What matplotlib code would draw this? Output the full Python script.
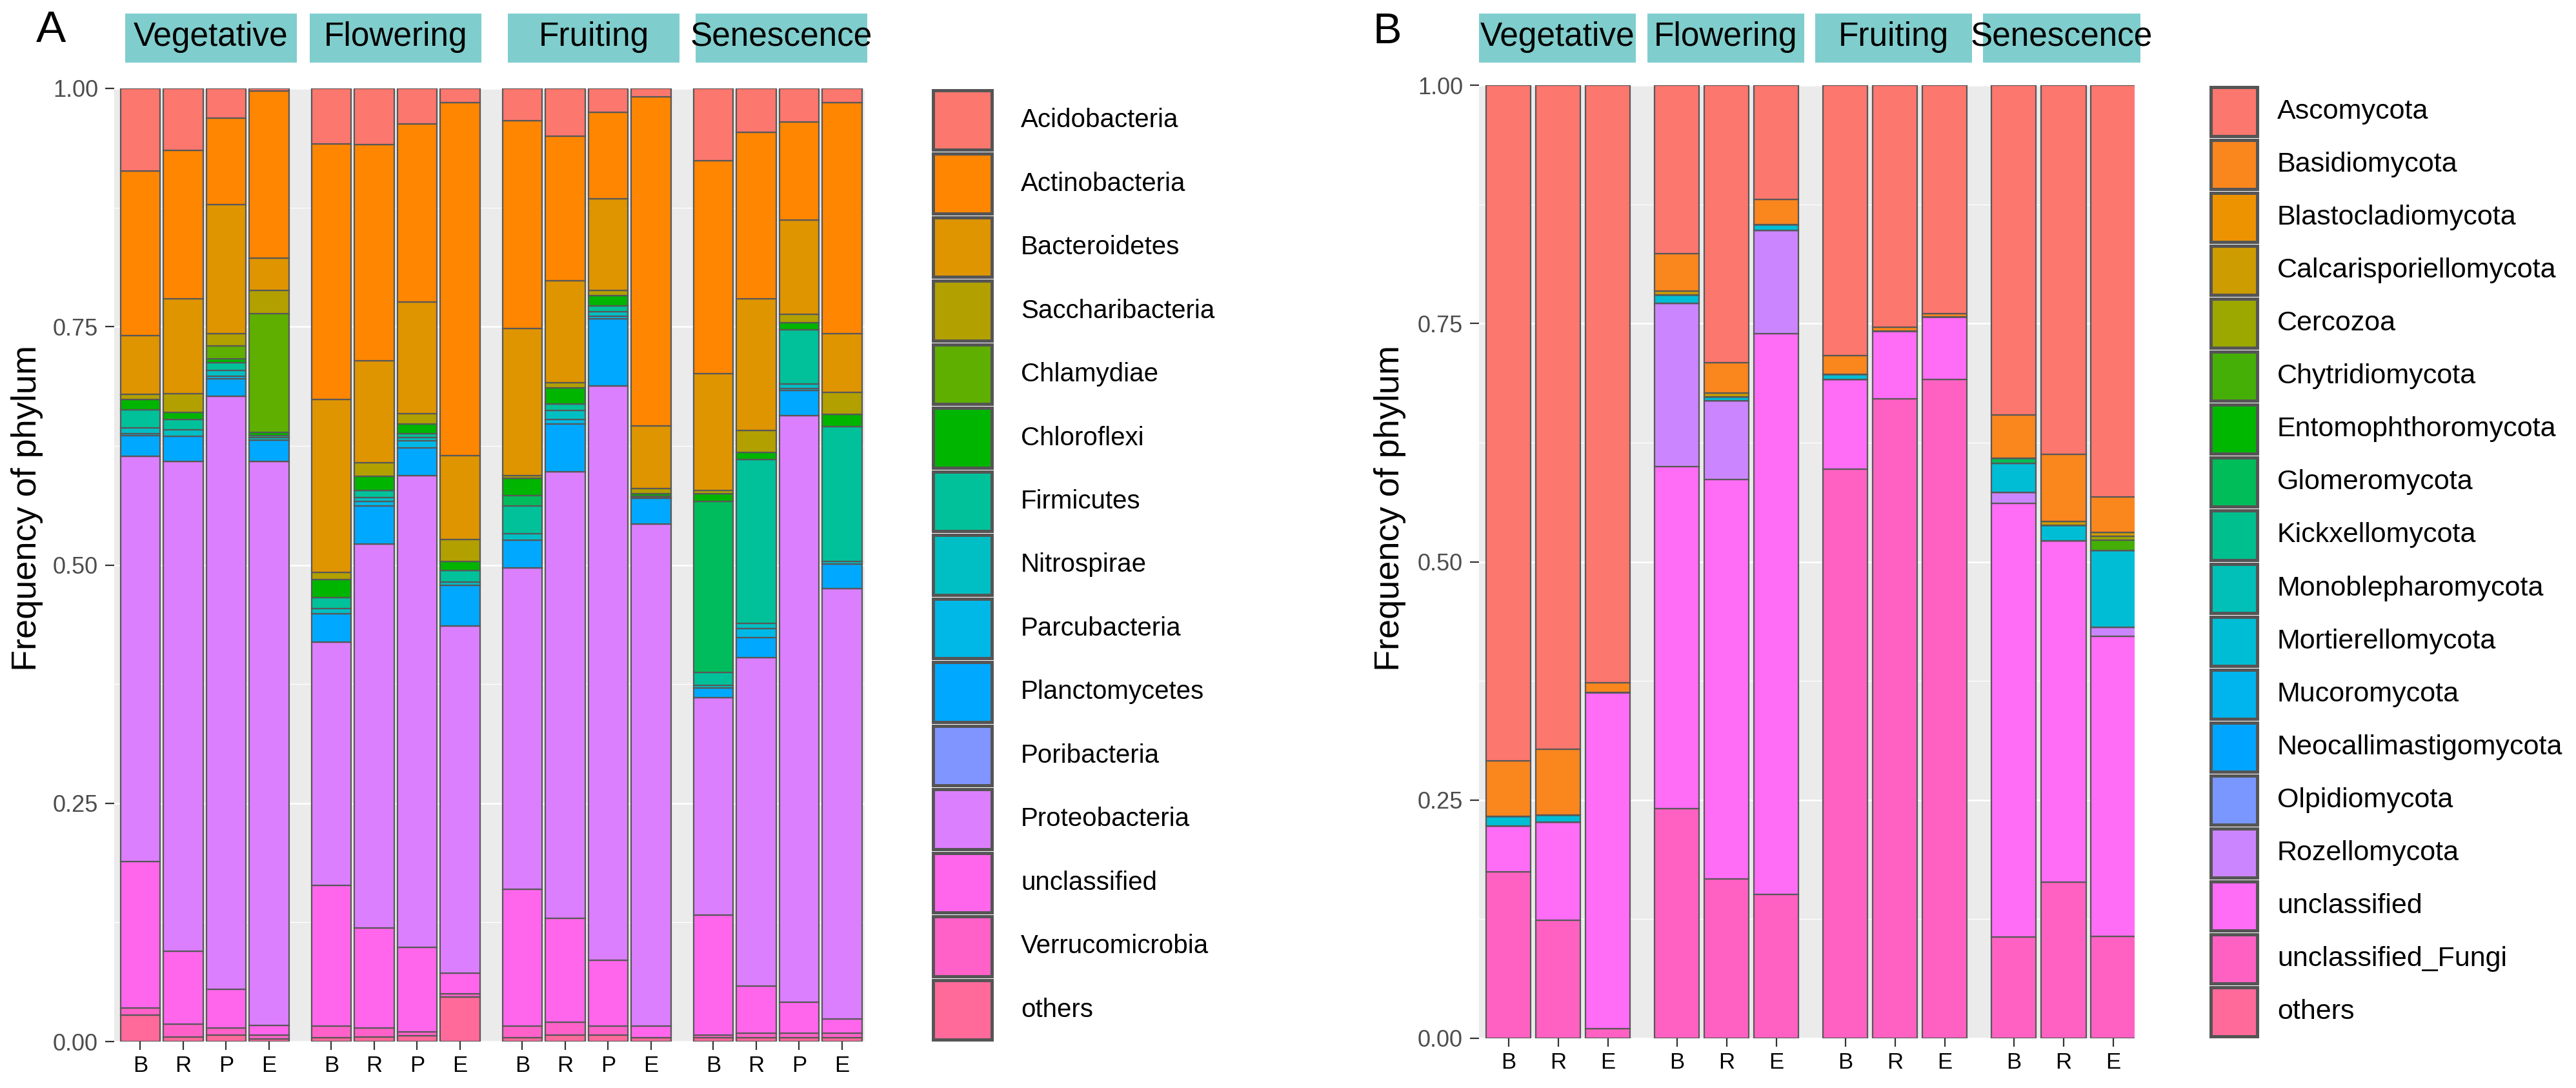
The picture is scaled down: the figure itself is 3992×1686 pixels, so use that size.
import matplotlib
matplotlib.use("Agg")
import matplotlib.pyplot as plt
from matplotlib.patches import Rectangle
import numpy as np

plt.rcParams['font.family'] = ['Liberation Sans', 'DejaVu Sans']

# ---------------- data: panel A (bacteria) ----------------
stages = ["Vegetative", "Flowering", "Fruiting", "Senescence"]
samples_a = ["B", "R", "P", "E"]
samples_b = ["B", "R", "E"]

bac_names = ["Acidobacteria", "Actinobacteria", "Bacteroidetes", "Saccharibacteria",
             "Chlamydiae", "Chloroflexi", "Cyanobacteria", "Firmicutes", "Nitrospirae",
             "Parcubacteria", "Planctomycetes", "Poribacteria", "Proteobacteria",
             "unclassified", "Verrucomicrobia", "others"]
bac_legend = ["Acidobacteria", "Actinobacteria", "Bacteroidetes", "Saccharibacteria",
              "Chlamydiae", "Chloroflexi", "Firmicutes", "Nitrospirae",
              "Parcubacteria", "Planctomycetes", "Poribacteria", "Proteobacteria",
              "unclassified", "Verrucomicrobia", "others"]
bac_colors = {"Acidobacteria": "#FC776E", "Actinobacteria": "#FF8600", "Bacteroidetes": "#DE9500",
              "Saccharibacteria": "#B2A000", "Chlamydiae": "#5FAF00", "Chloroflexi": "#00B500",
              "Cyanobacteria": "#00BC5C", "Firmicutes": "#00C19A", "Nitrospirae": "#00BFC4",
              "Parcubacteria": "#00B8E7", "Planctomycetes": "#00A9FF", "Poribacteria": "#8095FF",
              "Proteobacteria": "#DC7FFF", "unclassified": "#FF66EC", "Verrucomicrobia": "#FF61C9",
              "others": "#FF6A9B"}

# order of samples: Veg B,R,P,E | Flow B,R,P,E | Fruit B,R,P,E | Sen B,R,P,E
Acidobacteria   = [0.087, 0.065, 0.031, 0.003, 0.058, 0.059, 0.037, 0.015, 0.034, 0.050, 0.025, 0.009, 0.076, 0.046, 0.035, 0.015]
Actinobacteria  = [0.172, 0.156, 0.091, 0.175, 0.268, 0.227, 0.187, 0.370, 0.218, 0.152, 0.091, 0.345, 0.223, 0.175, 0.103, 0.242]
Bacteroidetes   = [0.062, 0.099, 0.135, 0.034, 0.182, 0.107, 0.117, 0.088, 0.154, 0.107, 0.096, 0.066, 0.123, 0.138, 0.099, 0.062]
Saccharibacteria= [0.005, 0.020, 0.013, 0.024, 0.007, 0.014, 0.011, 0.023, 0.003, 0.005, 0.005, 0.005, 0.003, 0.023, 0.009, 0.023]
Chlamydiae      = [0.000, 0.000, 0.014, 0.125, 0.000, 0.000, 0.000, 0.000, 0.000, 0.000, 0.000, 0.000, 0.000, 0.000, 0.000, 0.000]
Chloroflexi     = [0.011, 0.007, 0.004, 0.003, 0.019, 0.015, 0.010, 0.010, 0.018, 0.017, 0.011, 0.003, 0.008, 0.007, 0.007, 0.013]
Cyanobacteria   = [0.000, 0.000, 0.000, 0.000, 0.000, 0.000, 0.000, 0.000, 0.011, 0.000, 0.000, 0.000, 0.180, 0.000, 0.000, 0.000]
Firmicutes      = [0.019, 0.011, 0.008, 0.002, 0.012, 0.007, 0.004, 0.012, 0.029, 0.007, 0.006, 0.001, 0.013, 0.172, 0.057, 0.141]
Nitrospirae     = [0.006, 0.007, 0.006, 0.003, 0.005, 0.004, 0.004, 0.003, 0.007, 0.009, 0.005, 0.001, 0.003, 0.006, 0.005, 0.003]
Parcubacteria   = [0.002, 0.000, 0.003, 0.000, 0.000, 0.005, 0.007, 0.000, 0.000, 0.005, 0.003, 0.000, 0.000, 0.009, 0.002, 0.000]
Planctomycetes  = [0.022, 0.026, 0.018, 0.022, 0.030, 0.040, 0.029, 0.043, 0.029, 0.050, 0.070, 0.027, 0.010, 0.021, 0.026, 0.026]
Poribacteria    = [0.000, 0.000, 0.000, 0.000, 0.000, 0.000, 0.000, 0.000, 0.000, 0.000, 0.000, 0.000, 0.000, 0.000, 0.000, 0.000]
Proteobacteria  = [0.425, 0.514, 0.622, 0.592, 0.255, 0.403, 0.495, 0.364, 0.337, 0.469, 0.603, 0.527, 0.228, 0.345, 0.616, 0.451]
unclassified_a  = [0.154, 0.077, 0.041, 0.010, 0.148, 0.105, 0.089, 0.022, 0.144, 0.109, 0.069, 0.012, 0.126, 0.049, 0.032, 0.015]
Verrucomicrobia = [0.007, 0.013, 0.007, 0.004, 0.012, 0.009, 0.004, 0.003, 0.012, 0.013, 0.009, 0.000, 0.003, 0.005, 0.005, 0.005]
others_a        = [0.028, 0.005, 0.007, 0.003, 0.004, 0.005, 0.006, 0.047, 0.004, 0.007, 0.007, 0.004, 0.004, 0.004, 0.004, 0.004]

bac_values = {"Acidobacteria": Acidobacteria, "Actinobacteria": Actinobacteria,
              "Bacteroidetes": Bacteroidetes, "Saccharibacteria": Saccharibacteria,
              "Chlamydiae": Chlamydiae, "Chloroflexi": Chloroflexi, "Cyanobacteria": Cyanobacteria,
              "Firmicutes": Firmicutes, "Nitrospirae": Nitrospirae, "Parcubacteria": Parcubacteria,
              "Planctomycetes": Planctomycetes, "Poribacteria": Poribacteria,
              "Proteobacteria": Proteobacteria, "unclassified": unclassified_a,
              "Verrucomicrobia": Verrucomicrobia, "others": others_a}

# ---------------- data: panel B (fungi) ----------------
fun_names = ["Ascomycota", "Basidiomycota", "Blastocladiomycota", "Calcarisporiellomycota",
             "Cercozoa", "Chytridiomycota", "Entomophthoromycota", "Glomeromycota",
             "Kickxellomycota", "Monoblepharomycota", "Mortierellomycota", "Mucoromycota",
             "Neocallimastigomycota", "Olpidiomycota", "Rozellomycota", "unclassified",
             "unclassified_Fungi", "others"]
fun_colors = ["#FC776E", "#FA861E", "#EE9300", "#CC9C00", "#9CA700", "#45AF08", "#00B700",
              "#00BC59", "#00BF8E", "#00C0B7", "#00BDD6", "#00B4EE", "#00A5FF", "#7997FF",
              "#CB86FF", "#FF6CF6", "#FF61C3", "#FF6A9A"]

# order: Veg B,R,E | Flow B,R,E | Fruit B,R,E | Sen B,R,E
Ascomycota         = [0.709, 0.697, 0.627, 0.177, 0.291, 0.120, 0.284, 0.254, 0.240, 0.346, 0.387, 0.432]
Basidiomycota      = [0.058, 0.069, 0.010, 0.039, 0.032, 0.026, 0.019, 0.004, 0.003, 0.045, 0.071, 0.037]
Blastocladiomycota = [0.000] * 12
Calcarisporiellomycota = [0.000, 0.000, 0.000, 0.004, 0.004, 0.000, 0.000, 0.000, 0.000, 0.000, 0.004, 0.004]
Cercozoa           = [0.000, 0.000, 0.000, 0.000, 0.000, 0.000, 0.000, 0.000, 0.000, 0.000, 0.000, 0.004]
Chytridiomycota    = [0.000, 0.000, 0.000, 0.000, 0.000, 0.000, 0.000, 0.000, 0.000, 0.000, 0.000, 0.011]
Entomophthoromycota= [0.000] * 12
Glomeromycota      = [0.000, 0.000, 0.000, 0.000, 0.000, 0.000, 0.000, 0.000, 0.000, 0.006, 0.000, 0.000]
Kickxellomycota    = [0.000] * 12
Monoblepharomycota = [0.000] * 12
Mortierellomycota  = [0.010, 0.007, 0.000, 0.009, 0.004, 0.006, 0.006, 0.000, 0.000, 0.030, 0.016, 0.081]
Mucoromycota       = [0.000] * 12
Neocallimastigomycota = [0.000] * 12
Olpidiomycota      = [0.000] * 12
Rozellomycota      = [0.000, 0.000, 0.000, 0.171, 0.083, 0.109, 0.000, 0.000, 0.000, 0.012, 0.000, 0.009]
unclassified_b     = [0.048, 0.103, 0.353, 0.359, 0.419, 0.588, 0.094, 0.071, 0.066, 0.455, 0.358, 0.315]
unclassified_Fungi = [0.175, 0.124, 0.010, 0.241, 0.167, 0.151, 0.597, 0.671, 0.691, 0.106, 0.164, 0.107]
others_b           = [0.000] * 12

fun_values = [Ascomycota, Basidiomycota, Blastocladiomycota, Calcarisporiellomycota, Cercozoa,
              Chytridiomycota, Entomophthoromycota, Glomeromycota, Kickxellomycota,
              Monoblepharomycota, Mortierellomycota, Mucoromycota, Neocallimastigomycota,
              Olpidiomycota, Rozellomycota, unclassified_b, unclassified_Fungi, others_b]

# ---------------- figure ----------------
W, H = 3992, 1686
fig = plt.figure(figsize=(W / 100, H / 100), dpi=100)


def box(l, t, r, b):
    return [l / W, 1 - b / H, (r - l) / W, (b - t) / H]


EDGE = "#585858"
STRIP = "#80CDCD"


def style_axes(ax, xpos, labels, xlim):
    ax.set_facecolor("#EBEBEB")
    ax.set_xlim(*xlim)
    ax.set_ylim(0, 1)
    ax.set_yticks([0, 0.25, 0.5, 0.75, 1.0])
    ax.set_yticklabels(["0.00", "0.25", "0.50", "0.75", "1.00"])
    ax.set_yticks([0.125, 0.375, 0.625, 0.875], minor=True)
    ax.set_xticks(xpos)
    ax.set_xticklabels(labels)
    ax.set_axisbelow(True)
    ax.grid(True, which="major", color="white", lw=1.8)
    ax.grid(True, which="minor", axis="y", color="white", lw=0.9)
    for s in ax.spines.values():
        s.set_visible(False)
    ax.tick_params(axis="y", which="major", length=10, width=1.6, color="#333333",
                   labelcolor="#4D4D4D", labelsize=26, pad=8)
    ax.tick_params(axis="y", which="minor", length=0)
    ax.tick_params(axis="x", length=9, width=1.6, color="#333333",
                   labelcolor="black", labelsize=25, pad=6)


# ---- panel A ----
axA = fig.add_axes(box(177, 137, 1340, 1614))
gap_a = 4.451
xa = np.array([g * gap_a + i for g in range(4) for i in range(len(samples_a))])
bottom = np.zeros(len(xa))
for name in reversed(bac_names):
    vals = np.array(bac_values[name])
    axA.bar(xa, vals, bottom=bottom, width=0.93, color=bac_colors[name],
            edgecolor=EDGE, linewidth=1.6)
    bottom += vals
style_axes(axA, xa, samples_a * 4, (-0.609, 16.88))

# ---- panel B ----
axB = fig.add_axes(box(2292, 132, 3308, 1609))
gap_b = 3.39
xb = np.array([g * gap_b + i for g in range(4) for i in range(len(samples_b))])
bottom = np.zeros(len(xb))
for name, col, vals in reversed(list(zip(fun_names, fun_colors, fun_values))):
    vals = np.array(vals)
    axB.bar(xb, vals, bottom=bottom, width=0.9, color=col,
            edgecolor=EDGE, linewidth=1.6)
    bottom += vals
style_axes(axB, xb, samples_b * 4, (-0.591, 12.6))

# ---- strips ----
strips_a = [(194, 460), (480, 746), (787, 1053), (1078, 1344)]
strips_b = [(2292, 2535), (2553, 2796), (2813, 3056), (3073, 3317)]
for strips in (strips_a, strips_b):
    for (l, r), st in zip(strips, stages):
        fig.patches.append(Rectangle((l / W, 1 - 97 / H), (r - l) / W, 76 / H,
                                     transform=fig.transFigure, facecolor=STRIP,
                                     edgecolor="none", zorder=0))
        fig.text((l + r) / 2 / W, 1 - 58 / H, st, ha="center", va="center",
                 fontsize=37, color="black")

# ---- axis titles & panel labels ----
fig.text(42 / W, 1 - 787 / H, "Frequency of phylum", rotation=90, ha="center",
         va="center", fontsize=39)
fig.text(2154 / W, 1 - 787 / H, "Frequency of phylum", rotation=90, ha="center",
         va="center", fontsize=39)
fig.text(79 / W, 1 - 47 / H, "A", ha="center", va="center", fontsize=50)
fig.text(2150 / W, 1 - 50 / H, "B", ha="center", va="center", fontsize=48)


# ---- legends ----
def draw_legend(names, colors, kx0, kx1, top, bottom_px, tx, fs):
    n = len(names)
    pitch = (bottom_px - top) / n
    for i, (nm, col) in enumerate(zip(names, colors)):
        y0 = top + i * pitch + 3
        y1 = top + (i + 1) * pitch - 3
        fig.patches.append(Rectangle((kx0 / W, 1 - y1 / H), (kx1 - kx0) / W, (y1 - y0) / H,
                                     transform=fig.transFigure, facecolor=col,
                                     edgecolor="#555555", linewidth=3.6))
        fig.text(tx / W, 1 - (y0 + y1) / 2 / H, nm, ha="left", va="center",
                 fontsize=fs, color="black")


draw_legend(bac_legend, [bac_colors[n] for n in bac_legend], 1446, 1537, 137, 1614, 1582, 29)
draw_legend(fun_names, fun_colors, 3426, 3498, 132, 1609, 3529, 31)

fig.savefig("out.png", dpi=100, facecolor="white")
